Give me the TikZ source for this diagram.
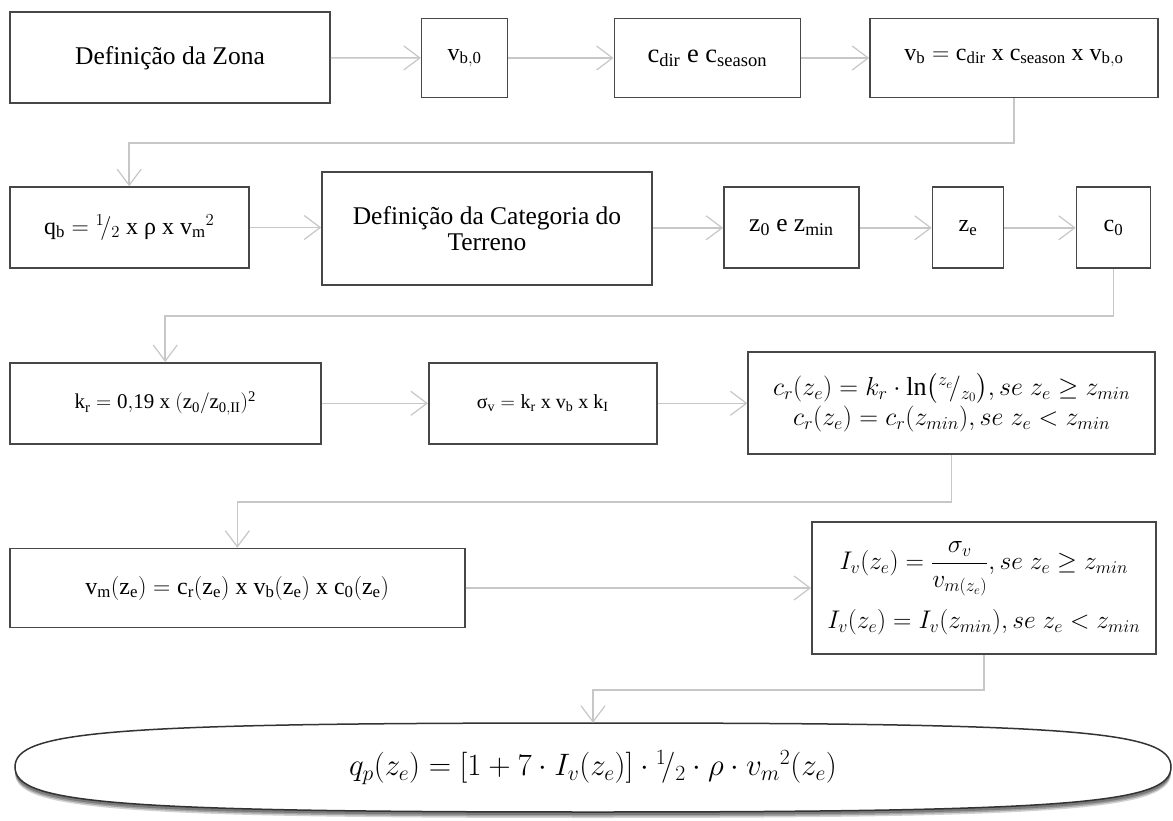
\RequirePackage{fix-cm}
\documentclass[tikz,border=0pt]{standalone}
\usepackage{amsmath}
\usepackage{fontspec}
\setmainfont{Liberation Serif}
\usetikzlibrary{arrows.meta,calc,shapes.geometric}
\tikzset{
  box/.style={draw=black!72, line width=1.6pt, fill=white, inner sep=2pt, align=center,
    font=\fontsize{24}{28}\selectfont},
  txtbox/.style={box, font=\fontsize{25.5}{26}\selectfont},
  conn/.style={draw=black!22, line width=1.5pt,
    -{Straight Barb[length=16pt,width=24pt,line width=1.2pt]}},
}
\newcommand{\rhoup}{\mbox{ρ}}
\newcommand{\sigup}{\mbox{σ}}
\begin{document}
\begin{tikzpicture}[x=1pt,y=-1pt]
\useasboundingbox (0,0) rectangle (1173,821);
\fill[white] (0,0) rectangle (1173,821);

% row 1
\node[txtbox, minimum width=320pt, minimum height=91pt] (A) at (170,57.8) {Definição da Zona};
\node[box, minimum width=86pt, minimum height=79pt] (B) at (464.6,58) {$\mathrm{v_{b,0}}$};
\node[box, minimum width=186pt, minimum height=79pt, font=\fontsize{26.5}{30}\selectfont] (C) at (707.3,58) {$\mathrm{c_{dir}}$ e $\mathrm{c_{season}}$};
\node[box, minimum width=288pt, minimum height=79pt] (D) at (1014,58) {$\mathrm{v_b = c_{dir}\ x\ c_{season}\ x\ v_{b,o}}$};

% row 2
\node[box, minimum width=239pt, minimum height=81pt] (qb) at (129.2,227.5) {$\mathrm{q_b} = {}^{1}\!/_{2}\ \mathrm{x}\ \rhoup\ \mathrm{x}\ \mathrm{v_m}^{2}$};
\node[txtbox, minimum width=330pt, minimum height=113pt] (cat) at (487,228.3) {Definição da Categoria do\\Terreno};
\node[box, minimum width=135pt, minimum height=81pt, font=\fontsize{25.5}{30}\selectfont] (z0) at (791.4,227.8) {$\mathrm{z_0}$ e $\mathrm{z_{min}}$};
\node[box, minimum width=71pt, minimum height=81pt] (ze) at (968,227.8) {$\mathrm{z_e}$};
\node[box, minimum width=74pt, minimum height=81pt] (c0) at (1113.5,227.8) {$\mathrm{c_0}$};

% row 3
\node[box, minimum width=311pt, minimum height=81pt, font=\fontsize{21}{25}\selectfont] (kr) at (165.2,403.3) {$\mathrm{k_r} = \mathrm{0{,}19\ x\ (z_0/z_{0,II})^2}$};
\node[box, minimum width=228pt, minimum height=81pt, font=\fontsize{20}{24}\selectfont] (sv) at (542.7,403.3) {$\sigup_{\mathrm{v}} = \mathrm{k_r\ x\ v_b\ x\ k_I}$};
\node[box, minimum width=407pt, minimum height=102pt, font=\fontsize{26}{30}\selectfont, text depth=8pt] (cr) at (951.7,403.2) {$c_r(z_e) = k_r\cdot\ln\!\big({}^{z_e}\!/_{z_0}\big), se\; z_e \geq z_{min}$\\[0pt]
 $c_r(z_e) = c_r(z_{min}), se\; z_e < z_{min}$};

% row 4
\node[box, minimum width=455pt, minimum height=79pt] (vm) at (237.3,588) {$\mathrm{v_m(z_e) = c_r(z_e)\ x\ v_b(z_e)\ x\ c_0(z_e)}$};
\node[box, minimum width=344pt, minimum height=132pt, font=\fontsize{25.5}{30}\selectfont] (Iv) at (983.8,588) {$I_v(z_e) = \dfrac{\sigma_v}{v_{m(z_e)}}, se\; z_e \geq z_{min}$\\[12pt]
 $I_v(z_e) = I_v(z_{min}), se\; z_e < z_{min}$};

% final shape (shadow + outline)
\foreach \s/\o in {6/0.25,4.5/0.35,3/0.45}{
\fill[black!70, opacity=\o] (15,767+\s) .. controls (15,731+\s) and (110,723+\s) .. (593,723+\s) .. controls (1076,723+\s) and (1171,731+\s) .. (1171,767+\s)
  .. controls (1171,803+\s) and (1076,812+\s) .. (593,812+\s) .. controls (110,812+\s) and (15,803+\s) .. (15,767+\s) -- cycle;
}
\filldraw[draw=black!80, line width=1.5pt, fill=white] (15,767) .. controls (15,731) and (110,723) .. (593,723) .. controls (1076,723) and (1171,731) .. (1171,767)
  .. controls (1171,803) and (1076,812) .. (593,812) .. controls (110,812) and (15,803) .. (15,767) -- cycle;
\node[ellipse, minimum width=1156pt, minimum height=89pt, inner sep=0pt, font=\fontsize{31}{34}\selectfont] (fin) at (593,767.5) {$q_p(z_e) = [1+7\cdot I_v(z_e)]\cdot{}^{1}\!/_{2}\cdot\rho\cdot {v_m}^{2}(z_e)$};

% connectors
\draw[conn] (A) -- (B);
\draw[conn] (B) -- (C);
\draw[conn] (C) -- (D);
\draw[conn] (D.south) -- (D.south |- 0,143) -| (qb.north);
\draw[conn] (qb) -- (qb -| cat.west);
\draw[conn] (cat.east |- z0) -- (z0);
\draw[conn] (z0) -- (ze);
\draw[conn] (ze) -- (c0);
\draw[conn] (c0.south) -- (c0.south |- 0,316) -| (kr.north);
\draw[conn] (kr) -- (sv);
\draw[conn] (sv) -- (sv -| cr.west);
\draw[conn] (cr.south) -- (cr.south |- 0,502) -| (vm.north);
\draw[conn] (vm) -- (vm -| Iv.west);
\draw[conn] (Iv.south) -- (Iv.south |- 0,690) -| (fin.north);
\end{tikzpicture}
\end{document}
